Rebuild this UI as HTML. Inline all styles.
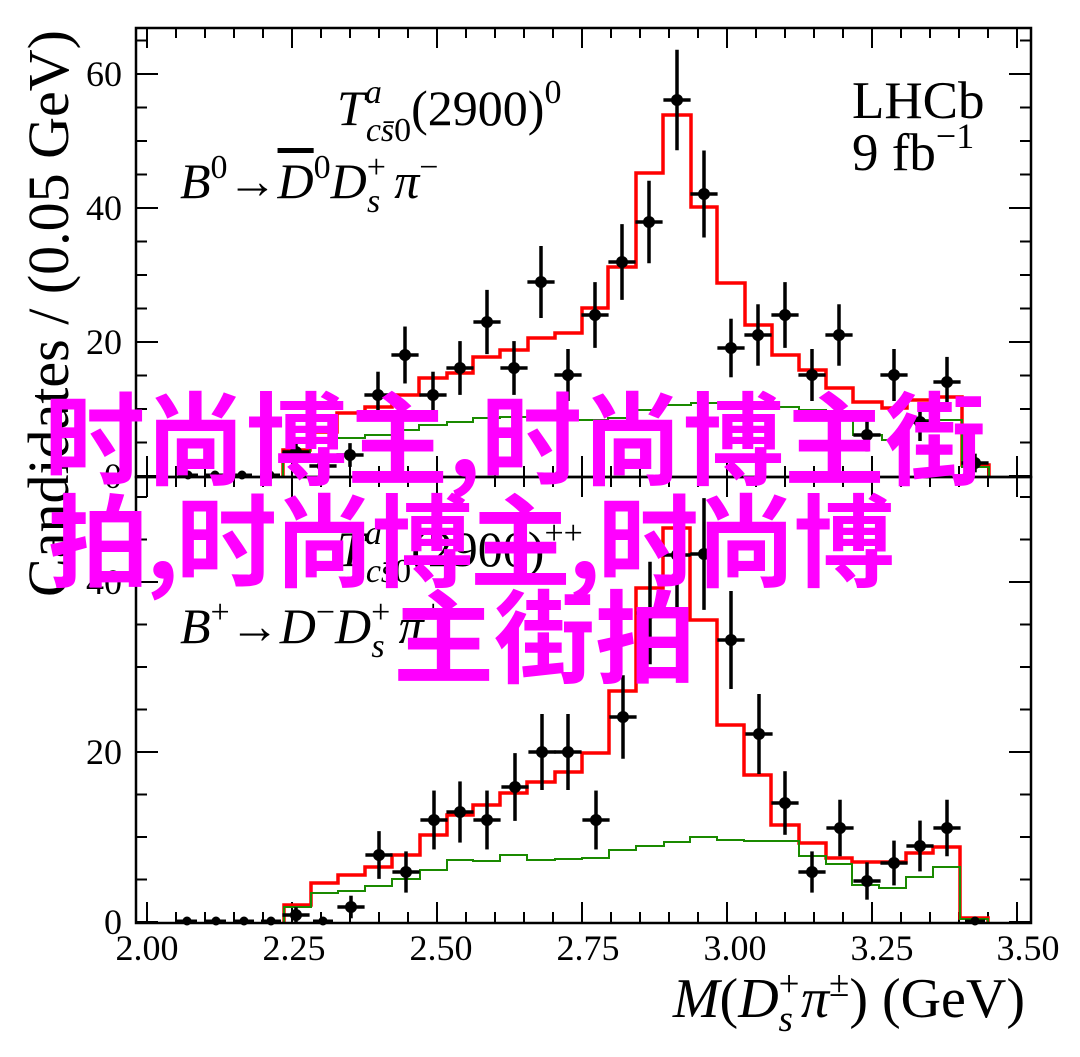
<!DOCTYPE html>
<html><head><meta charset="utf-8">
<style>
html,body{margin:0;padding:0;background:#fff;}
#wrap{position:relative;width:1080px;height:1057px;overflow:hidden;}
svg{position:absolute;left:0;top:0;}
.pk{position:absolute;color:#ff00ff;font-family:"Noto Sans CJK SC","WenQuanYi Zen Hei",sans-serif;font-weight:bold;font-size:101px;line-height:101px;white-space:nowrap;}
</style></head><body><div id="wrap">
<svg id="s" width="1080" height="1057" viewBox="0 0 1080 1057" xmlns="http://www.w3.org/2000/svg" font-family="Liberation Serif, serif">
<g id="ticks" stroke="#000" stroke-width="2"></g>
<path fill="none" stroke="#ff0000" stroke-width="3.5" d="M283,476 V450 H310 V432 H337 V413 H365 V407 H392 V395 H419 V378 H447 V373 H473 V357 H500 V350 H528 V338 H555 V333 H582 V308 H608 V267 H636 V173 H663 V115 H691 V207 H717 V283 H745 V325 H772 V355 H799 V370 H826 V388 H853 V402 H882 V408 H907 V400 H933 V397 H962 V465 H989 V476"/>
<path fill="none" stroke="#1a8a00" stroke-width="2" d="M283,476 V453 H310 V442 H337 V438 H365 V435 H392 V430 H419 V425 H447 V422 H473 V418 H500 V417 H528 V418 H555 V420 H582 V420 H608 V418 H636 V410 H663 V405 H691 V403 H745 V402 H772 V407 H799 V410 H826 V412 H853 V435 H882 V440 H907 V420 H962 V467 H989 V476"/>
<path fill="none" stroke="#ff0000" stroke-width="3.5" d="M284,922 V905 H311 V883 H338 V875 H365 V867 H392 V855 H420 V835 H447 V815 H473 V805 H500 V793 H527 V782 H555 V772 H582 V753 H609 V691 H636 V588 H663 V528 H690 V620 H717 V725 H744 V775 H771 V825 H799 V843 H826 V858 H852 V862 H879 V862 H906 V853 H933 V847 H960 V918 H988 V922"/>
<path fill="none" stroke="#1a8a00" stroke-width="2" d="M284,922 V907 H311 V893 H338 V891 H365 V886 H392 V879 H420 V870 H447 V860 H473 V861 H500 V855 H527 V860 H555 V859 H582 V858 H609 V850 H636 V846 H664 V842 H690 V837 H717 V840 H744 V841 H799 V856 H826 V864 H852 V885 H879 V888 H906 V877 H933 V867 H960 V919 H988 V922"/>
<g id="pts"></g>
<rect x="136" y="28" width="895" height="449" fill="none" stroke="#000" stroke-width="2.5"/>
<rect x="136" y="477" width="895" height="446" fill="none" stroke="#000" stroke-width="2.5"/>
<g font-size="36" text-anchor="end" fill="#000">
<text x="122" y="86">60</text><text x="122" y="220">40</text><text x="122" y="354">20</text><text x="122" y="488">0</text>
<text x="122" y="594">40</text><text x="122" y="764">20</text><text x="122" y="934">0</text>
</g>
<g font-size="36" text-anchor="middle" fill="#000">
<text x="147" y="960">2.00</text><text x="294" y="960">2.25</text><text x="441" y="960">2.50</text><text x="588" y="960">2.75</text><text x="735" y="960">3.00</text><text x="882" y="960">3.25</text><text x="1028" y="960">3.50</text>
</g>
<text transform="translate(68,30) rotate(-90)" font-size="58" text-anchor="end">Candidates / (0.05 GeV)</text>
<text x="1025" y="1017" font-size="56" text-anchor="end"><tspan font-style="italic">M</tspan>(<tspan font-style="italic">D</tspan><tspan font-size="37" dy="-21">+</tspan><tspan font-size="37" font-style="italic" dx="-21" dy="35">s</tspan><tspan dy="-14" dx="8" font-style="italic">π</tspan><tspan font-size="37" dy="-21">±</tspan><tspan dy="21">) (GeV)</tspan></text>
<text x="337" y="125" font-size="50"><tspan font-style="italic">T</tspan><tspan font-size="34" font-style="italic" dy="-22">a</tspan><tspan font-size="34" font-style="italic" dx="-16" dy="38">cs̄</tspan><tspan font-size="34" dy="0">0</tspan><tspan dy="-16">(2900)</tspan><tspan font-size="34" dy="-22">0</tspan></text>
<text x="180" y="198" font-size="50"><tspan font-style="italic">B</tspan><tspan font-size="34" dy="-20">0</tspan><tspan dy="20">→</tspan><tspan font-style="italic" text-decoration="overline">D</tspan><tspan font-size="34" dy="-20">0</tspan><tspan font-style="italic" dy="20">D</tspan><tspan font-size="34" dy="-20">+</tspan><tspan font-size="34" font-style="italic" dx="-19" dy="34">s</tspan><tspan font-style="italic" dx="14" dy="-14">π</tspan><tspan font-size="34" dy="-20">−</tspan></text>
<text x="852" y="118" font-size="53">LHCb</text>
<text x="852" y="170" font-size="53">9 fb<tspan font-size="36" dy="-22">−1</tspan></text>
<text x="337" y="566" font-size="50"><tspan font-style="italic">T</tspan><tspan font-size="34" font-style="italic" dy="-22">a</tspan><tspan font-size="34" font-style="italic" dx="-16" dy="38">cs̄</tspan><tspan font-size="34" dy="0">0</tspan><tspan dy="-16">(2900)</tspan><tspan font-size="34" dy="-22">++</tspan></text>
<text x="180" y="643" font-size="50"><tspan font-style="italic">B</tspan><tspan font-size="34" dy="-20">+</tspan><tspan dy="20">→</tspan><tspan font-style="italic">D</tspan><tspan font-size="34" dy="-20">−</tspan><tspan font-style="italic" dy="20">D</tspan><tspan font-size="34" dy="-20">+</tspan><tspan font-size="34" font-style="italic" dx="-19" dy="34">s</tspan><tspan font-style="italic" dx="14" dy="-14">π</tspan><tspan font-size="34" dy="-20">+</tspan></text>
</svg>
<div class="pk" style="left:44px;top:384px;">时尚博主,时尚博主街</div>
<div class="pk" style="left:48px;top:486px;letter-spacing:-3px;">拍,时尚博主,时尚博</div>
<div class="pk" style="left:393px;top:582px;">主街拍</div>
</div>
<script>
(function(){
var NS="http://www.w3.org/2000/svg";
var tg=document.getElementById("ticks"),pg=document.getElementById("pts");
function ln(g,x1,y1,x2,y2,w){var l=document.createElementNS(NS,"line");l.setAttribute("x1",x1);l.setAttribute("y1",y1);l.setAttribute("x2",x2);l.setAttribute("y2",y2);if(w)l.setAttribute("stroke-width",w);g.appendChild(l);}
for(var i=0;i<=30;i++){var x=147+29*i;if(x>1030)break;var L=(i%5==0)?20:10;
ln(tg,x,476,x,476-L);ln(tg,x,28,x,28+L);ln(tg,x,922,x,922-L);ln(tg,x,477,x,477+L);}
for(var v=0;v<=65;v+=5){var y=476-6.7*v;if(y<30)break;var L=(v%20==0)?22:11;ln(tg,136,y,136+L,y);ln(tg,1031,y,1031-L,y);}
for(var v=0;v<=52;v+=5){var y=922-8.5*v;if(y<479)break;var L=(v%20==0)?22:11;ln(tg,136,y,136+L,y);ln(tg,1031,y,1031-L,y);}
function pts(base,sc,arr){arr.forEach(function(p){var x=p[0],y=p[1];var N=(base-y)/sc;
var g=pg;
if(N>0.6){var e=Math.sqrt(N)*sc;ln(g,x,y-e,x,y+e,3.5);ln(g,x-13.6,y,x+13.6,y,3.5);
var c=document.createElementNS(NS,"circle");c.setAttribute("cx",x);c.setAttribute("cy",y);c.setAttribute("r",5.5);g.appendChild(c);}
else{var c=document.createElementNS(NS,"circle");c.setAttribute("cx",x);c.setAttribute("cy",base-1);c.setAttribute("r",4);g.appendChild(c);ln(g,x-10,base-1,x+10,base-1,3);}
});}
pg.setAttribute("stroke","#000");pg.setAttribute("fill","#000");
pts(476,6.7,[[188,476],[215,476],[242,476],[270,476],[296,452],[323,466],[350,455],[378,395],[405,355],[433,395],[460,368],[487,322],[514,368],[541,282],[568,375],[595,315],[622,262],[649,222],[677,100],[704,194],[731,348],[758,335],[785,315],[812,375],[839,335],[867,435],[894,375],[920,422],[947,382],[975,463]]);
pts(922,8.5,[[187,922],[216,922],[244,922],[271,922],[296,915],[323,922],[351,907],[379,855],[406,872],[434,820],[460,812],[487,820],[515,787],[542,752],[568,752],[596,820],[623,717],[650,613],[677,555],[704,554],[731,640],[759,734],[785,803],[812,872],[840,828],[867,881],[894,863],[920,846],[947,828],[975,920]]);
})();
</script>
</body></html>
